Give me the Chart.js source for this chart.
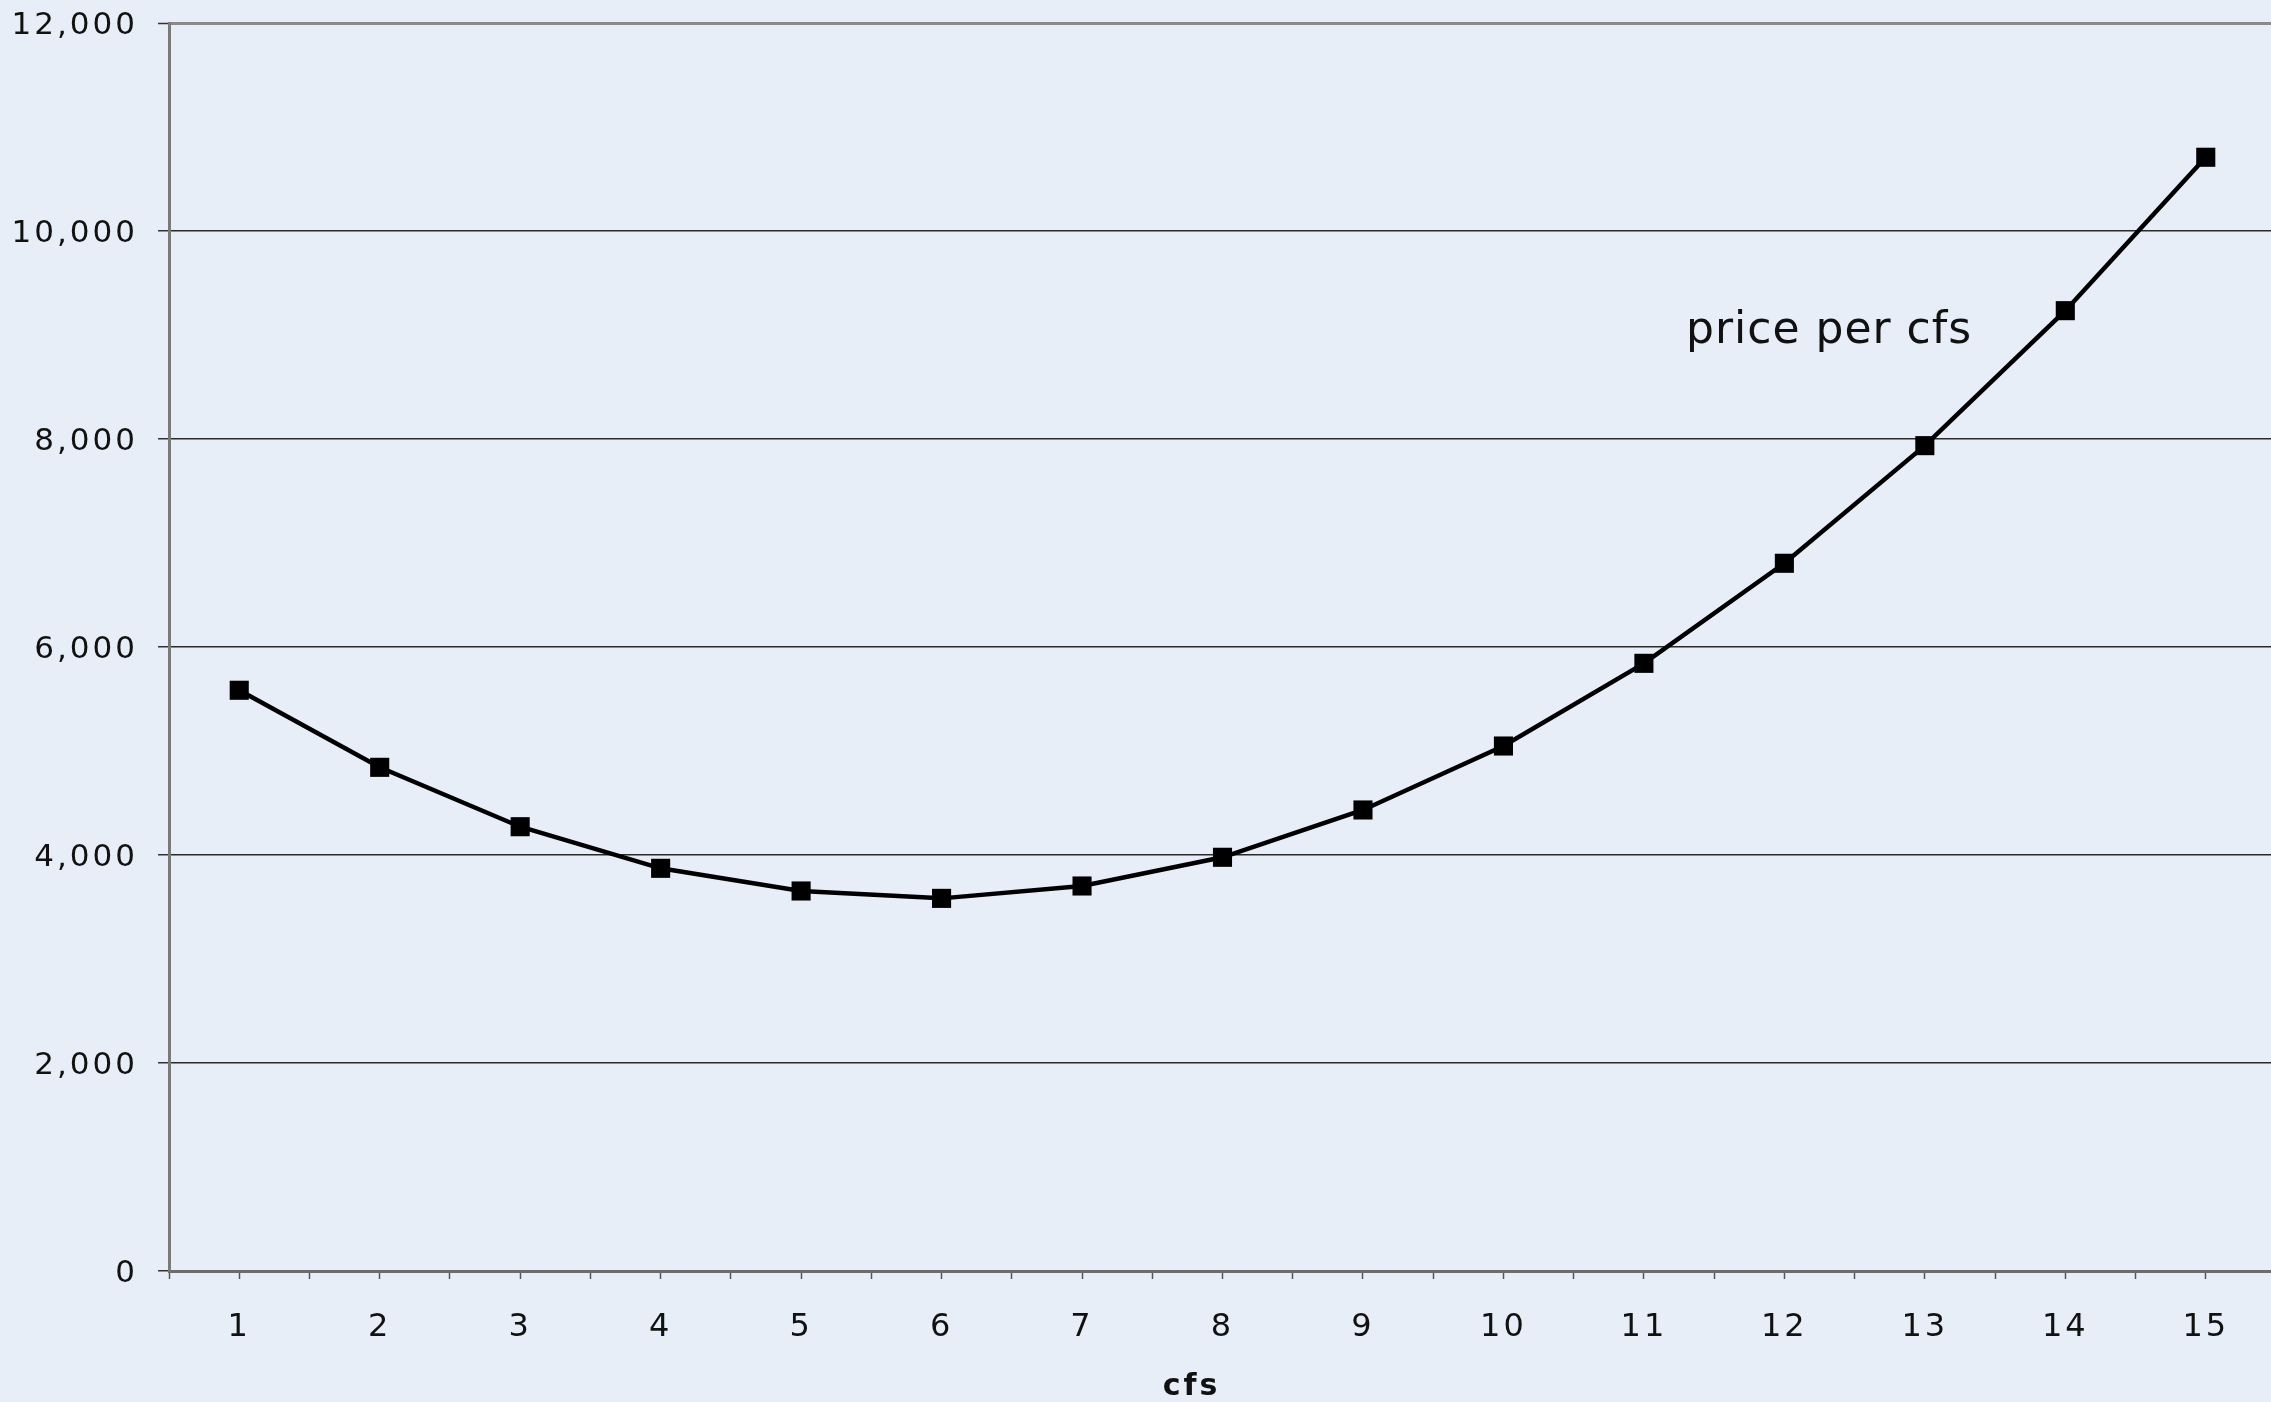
<!DOCTYPE html>
<html>
<head>
<meta charset="utf-8">
<script src="https://cdn.jsdelivr.net/npm/chart.js@4.4.1/dist/chart.umd.min.js"></script>
<style>
  html, body { margin: 0; padding: 0; overflow: hidden; background: #e7eef7; }
  #wrap { position: relative; width: 2276px; height: 1402px; }
</style>
</head>
<body>
<div id="wrap"><canvas id="priceChart"></canvas></div>
<script>
// ---- data ----
const cfs = [1, 2, 3, 4, 5, 6, 7, 8, 9, 10, 11, 12, 13, 14, 15];
const pricePerCfs = [5584, 4843, 4272, 3872, 3654, 3583, 3702, 3978, 4433, 5048, 5843, 6805, 7936, 9234, 10709];
const yTicks = [0, 2000, 4000, 6000, 8000, 10000, 12000];
const seriesName = 'price per cfs';
const xTitle = 'cfs';

const FONT = '"DejaVu Sans", Verdana, sans-serif';

// the axis text in the picture is a bit tracked out
const tracking = {
  id: 'tracking',
  beforeDraw(chart) { chart.ctx.letterSpacing = '3px'; },
  afterDraw(chart) { chart.ctx.letterSpacing = '0px'; }
};

// series label inside the plot + the x title (sits left of centre in the original)
const chartText = {
  id: 'chartText',
  afterDatasetsDraw(chart, args, opts) {
    const { ctx, scales: { x, y } } = chart;
    ctx.save();
    ctx.fillStyle = '#111';

    ctx.letterSpacing = '1px';
    ctx.font = `44px ${FONT}`;
    ctx.textAlign = 'left';
    ctx.textBaseline = 'alphabetic';
    ctx.fillText(opts.series.text, x.getPixelForValue(opts.series.x), y.getPixelForValue(opts.series.y));

    ctx.letterSpacing = '3px';
    ctx.font = `bold 30px ${FONT}`;
    ctx.textAlign = 'center';
    ctx.textBaseline = 'middle';
    ctx.fillText(opts.title.text, x.getPixelForValue(opts.title.x), x.bottom - 15);
    ctx.restore();
  }
};

new Chart(document.getElementById('priceChart'), {
  type: 'line',
  data: {
    labels: cfs,
    datasets: [{
      label: seriesName,
      data: pricePerCfs,
      borderColor: '#000',
      borderWidth: 4.5,
      tension: 0,
      pointStyle: 'rect',
      pointRadius: 13.5,
      pointBorderWidth: 0,
      pointBackgroundColor: '#000',
      clip: false,
    }],
  },
  plugins: [tracking, chartText],
  options: {
    responsive: true,
    maintainAspectRatio: false,
    animation: false,
    layout: { autoPadding: false, padding: { top: 23, left: 0, right: 0, bottom: 0 } },
    plugins: {
      legend: { display: false },
      tooltip: { enabled: false },
      chartText: {
        series: { text: seriesName, x: 11.3, y: 8920 },
        title: { text: xTitle, x: 7.78 },
      },
    },
    scales: {
      x: {
        type: 'linear',
        min: 0.5, max: 15.5,
        afterFit: s => { s.height = 131; s.paddingLeft = 0; s.paddingRight = 0; },
        border: { color: '#6c6c6c', width: 3 },
        grid: { drawOnChartArea: false, drawTicks: true, tickLength: 8, tickColor: '#555', tickWidth: 1.5 },
        ticks: {
          stepSize: 0.5, maxTicksLimit: 100, autoSkip: false, maxRotation: 0,
          padding: 29, color: '#111', font: { family: FONT, size: 32 },
          callback: v => Number.isInteger(v) ? String(v) : '',
        },
      },
      y: {
        min: 0, max: 12000,
        afterFit: s => { s.width = 169; s.paddingTop = 0; s.paddingBottom = 0; },
        afterBuildTicks: s => { s.ticks = yTicks.map(v => ({ value: v })); },
        border: { color: '#7a7a7a', width: 3 },
        grid: {
          color: c => c.tick && c.tick.value === 12000 ? '#8a8a8a' : '#2a2a2a',
          lineWidth: c => c.tick && c.tick.value === 12000 ? 3 : 1.5,
          tickColor: '#333', tickWidth: 1.5, tickLength: 11,
        },
        ticks: {
          padding: 20, labelOffset: 3, color: '#111', font: { family: FONT, size: 31 },
          callback: v => v.toLocaleString('en-US'),
        },
      },
    },
  },
});
</script>
</body>
</html>
